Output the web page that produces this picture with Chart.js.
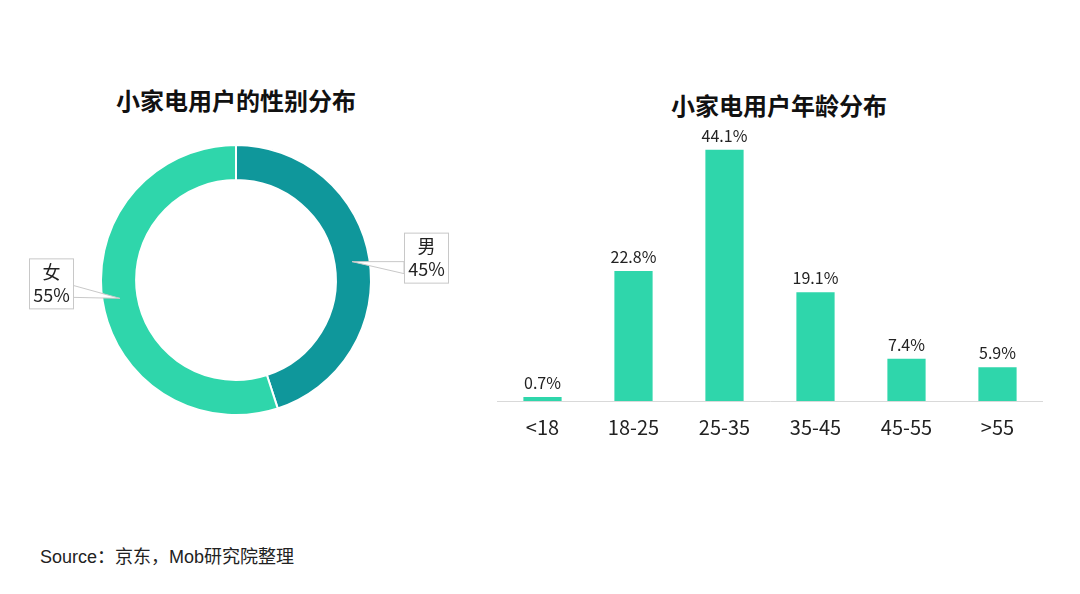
<!DOCTYPE html>
<html><head><meta charset="utf-8">
<script src="https://cdn.jsdelivr.net/npm/chart.js@4.4.1/dist/chart.umd.min.js"></script>
<style>
html,body{margin:0;padding:0;background:#fff;width:1080px;height:594px;overflow:hidden;font-family:"Noto Sans CJK SC","Noto Sans",sans-serif;}
.t{position:absolute;font-weight:bold;font-size:24px;color:#111;white-space:nowrap;transform:translateX(-50%);}
#src{position:absolute;left:40px;top:542px;font-size:18px;color:#222;white-space:nowrap;font-family:"Liberation Sans","Noto Sans CJK SC",sans-serif;}
#d1{position:absolute;left:0;top:144px;width:472px;height:272px;}
#d2{position:absolute;left:497px;top:116px;width:546px;height:337px;}
</style></head>
<body>
<div class="t" style="left:236px;top:82px;">小家电用户的性别分布</div>
<div class="t" style="left:779px;top:87px;">小家电用户年龄分布</div>
<div id="d1"><canvas id="c1"></canvas></div>
<div id="d2"><canvas id="c2"></canvas></div>
<div id="src">Source：京东，Mob研究院整理</div>
<script>
const genderLabels = ["男", "女"];
const genderValues = [45, 55];
const ageCategories = ["<18", "18-25", "25-35", "35-45", "45-55", ">55"];
const ageValues = [0.7, 22.8, 44.1, 19.1, 7.4, 5.9];

const FONT = '"Noto Sans CJK SC","Noto Sans",sans-serif';

const calloutPlugin = {
  id: 'callout',
  afterDraw(chart) {
    const ctx = chart.ctx;
    const meta = chart.getDatasetMeta(0);
    meta.data.forEach((arc, i) => {
      const mid = (arc.startAngle + arc.endAngle) / 2;
      const r = (arc.innerRadius + arc.outerRadius) / 2;
      const tx = arc.x + Math.cos(mid) * r;
      const ty = arc.y + Math.sin(mid) * r;
      const right = Math.cos(mid) > 0;
      const bw = 44, bh = 50;
      let bx, by, b1, b2, ex;
      if (right) { bx = tx + 52; by = ty - 29; ex = bx; b1 = by + 29; b2 = by + 41; }
      else { bx = tx - 47 - bw; by = ty - 40; ex = bx + bw; b1 = by + 27; b2 = by + 39; }
      ctx.save();
      ctx.fillStyle = '#fff';
      ctx.strokeStyle = '#c8c8c8';
      ctx.lineWidth = 1;
      ctx.beginPath();
      ctx.moveTo(tx, ty);
      ctx.lineTo(ex, b1);
      ctx.lineTo(ex, b2);
      ctx.closePath();
      ctx.fill(); ctx.stroke();
      ctx.fillRect(bx + 0.5, by + 0.5, bw, bh);
      ctx.strokeRect(bx + 0.5, by + 0.5, bw, bh);
      ctx.fillStyle = '#222';
      ctx.font = '18px ' + FONT;
      ctx.textAlign = 'center';
      ctx.textBaseline = 'middle';
      ctx.fillText(chart.data.labels[i], bx + bw / 2 + 0.5, by + 14);
      ctx.fillText(chart.data.datasets[0].data[i] + '%', bx + bw / 2 + 0.5, by + 37);
      ctx.restore();
    });
  }
};

new Chart(document.getElementById('c1'), {
  type: 'doughnut',
  data: {
    labels: genderLabels,
    datasets: [{
      data: genderValues,
      backgroundColor: ['#0f979b', '#2fd6ab'],
      borderColor: '#ffffff',
      borderWidth: 2,
      hoverOffset: 0
    }]
  },
  options: {
    responsive: true, maintainAspectRatio: false, animation: false,
    cutout: '74%',
    layout: { padding: 0 },
    plugins: { legend: { display: false }, tooltip: { enabled: false } }
  },
  plugins: [calloutPlugin]
});

const barLabelPlugin = {
  id: 'barLabels',
  afterDatasetsDraw(chart) {
    const ctx = chart.ctx;
    const meta = chart.getDatasetMeta(0);
    ctx.save();
    ctx.fillStyle = '#222';
    ctx.font = '16px ' + FONT;
    ctx.textAlign = 'center';
    ctx.textBaseline = 'bottom';
    meta.data.forEach((bar, i) => {
      ctx.fillText(chart.data.datasets[0].data[i].toFixed(1) + '%', bar.x, bar.y - 6);
    });
    ctx.restore();
  }
};

new Chart(document.getElementById('c2'), {
  type: 'bar',
  data: {
    labels: ageCategories,
    datasets: [{
      data: ageValues,
      backgroundColor: '#2fd6ab',
      barPercentage: 0.42,
      categoryPercentage: 1.0
    }]
  },
  options: {
    responsive: true, maintainAspectRatio: false, animation: false,
    layout: { padding: 0 },
    plugins: { legend: { display: false }, tooltip: { enabled: false } },
    scales: {
      x: {
        grid: { display: false, drawTicks: false },
        border: { display: true, color: '#d9d9d9', width: 1 },
        ticks: { color: '#222', font: { size: 20, family: FONT }, padding: 14 }
      },
      y: { display: false, min: 0, max: 50 }
    }
  },
  plugins: [barLabelPlugin]
});
</script>
</body></html>
